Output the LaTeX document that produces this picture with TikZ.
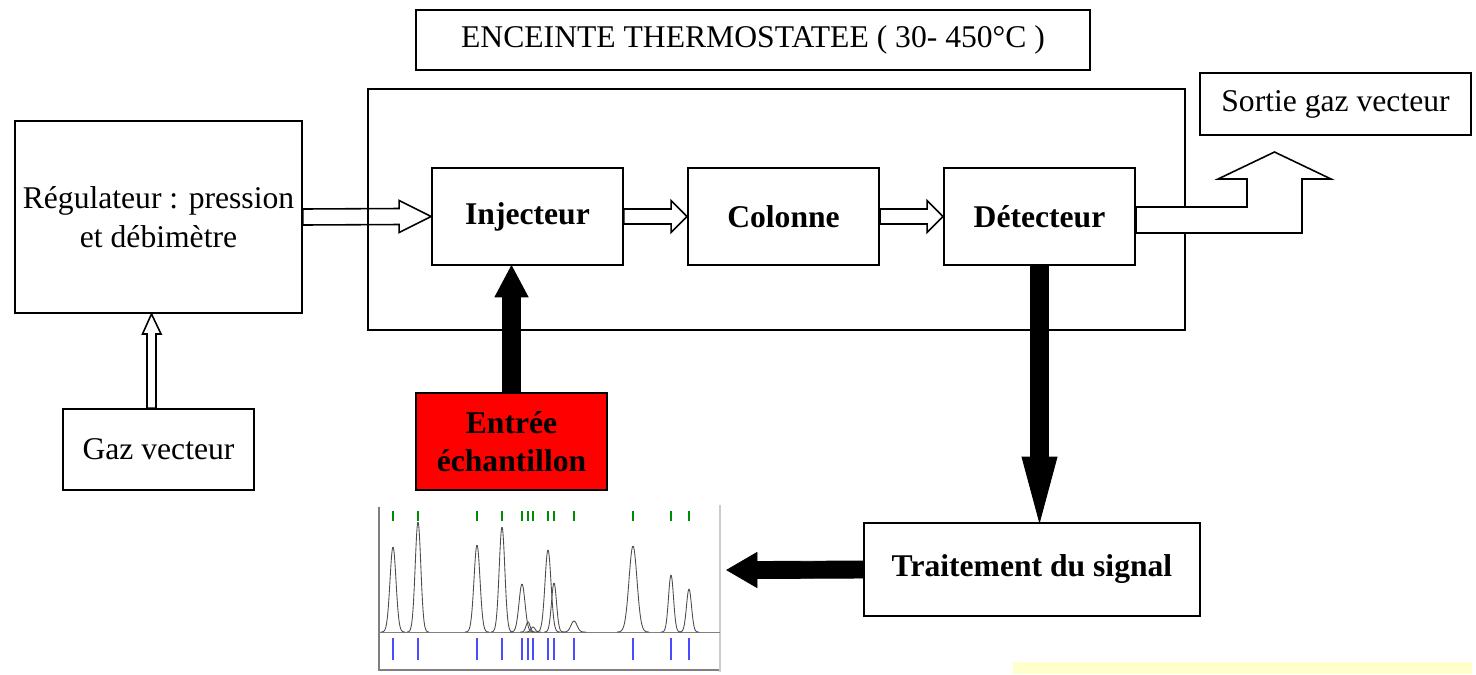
\documentclass[tikz,border=0pt]{standalone}
\usepackage{fontspec}
\setmainfont{Liberation Serif}
\usetikzlibrary{calc}
\definecolor{jaunepale}{HTML}{FFFFCC}

\begin{document}
\begin{tikzpicture}[x=0.02cm, y=-0.02cm,
	bloc/.style={draw, line width=1.1pt, align=center, inner sep=2pt, font=\fontsize{18}{22}\selectfont},
	gras/.style={bloc, font=\bfseries\fontsize{18}{22}\selectfont},
	creuse/.style={draw, line width=0.9pt, fill=white, line join=miter},
	noire/.style={draw, fill=black, line width=0.5pt}]
	\useasboundingbox (0,0) rectangle (1476,674);

	\node (enceinte) at (776.5,209.5) [bloc, minimum width=16.34cm, minimum height=4.82cm] {};
	\node (titre) at (753,40) [bloc, minimum width=13.48cm, minimum height=1.2cm] {ENCEINTE THERMOSTATEE ( 30- 450°C )};
	\node (reg) at (158.5,217) [bloc, minimum width=5.74cm, minimum height=3.84cm] {Régulateur : pression\\et débimètre};
	\node (gaz) at (158.5,449.5) [bloc, minimum width=3.82cm, minimum height=1.62cm] {Gaz vecteur};
	\node (inj) at (527.5,216.5) [gras, minimum width=3.82cm, minimum height=1.94cm] {Injecteur};
	\node (col) at (783.5,216.5) [gras, minimum width=3.82cm, minimum height=1.94cm] {Colonne};
	\node (det) at (1039.5,216.5) [gras, minimum width=3.82cm, minimum height=1.94cm] {Détecteur};
	\node (sortie) at (1335.5,104) [bloc, minimum width=5.42cm, minimum height=1.24cm] {Sortie gaz vecteur};
	\node (entree) at (511.5,441.5) [gras, fill=red, minimum width=3.82cm, minimum height=1.94cm] {Entrée\\échantillon};
	\node (trait) at (1032,569.5) [gras, minimum width=6.72cm, minimum height=1.86cm] {Traitement du signal};

	\coordinate (injbas) at (entree.north |- inj.south);
	\coordinate (traithaut) at (det.south |- trait.north);
	\coordinate (sortietip) at (1274.5,152);
	\coordinate (chromatip) at (727,570);

	% gas line
	\draw[creuse] ($(gaz.north)+(-11.5,0)$) -- ($(reg.south)+(-11.5,20)$) -- ++(-4.5,0) -- ($(reg.south)+(-7,0)$) -- ++(9.5,20) -- ++(-5,0) -- ($(gaz.north)+(-2.5,0)$) -- cycle;
	\draw[creuse, fill=none] ($(reg.east)+(0,-8)$) -- ($(inj.west)+(-32,-8)$) -- ++(0,-8) -- (inj.west) -- ++(-32,16) -- ++(0,-8) -- ($(reg.east)+(0,8)$) -- cycle;
	\draw[creuse] ($(inj.east)+(0,-7.5)$) -- ($(col.west)+(-16,-7.5)$) -- ++(0,-8.5) -- (col.west) -- ++(-16,16) -- ++(0,-8.5) -- ($(inj.east)+(0,7.5)$) -- cycle;
	\draw[creuse] ($(col.east)+(0,-7.5)$) -- ($(det.west)+(-16,-7.5)$) -- ++(0,-8.5) -- (det.west) -- ++(-16,16) -- ++(0,-8.5) -- ($(col.east)+(0,7.5)$) -- cycle;
	\draw[creuse] ($(det.east)+(0,-9.5)$) -| ($(sortietip)+(-27.5,27)$) -- ++(-29,0) -- (sortietip) -- ++(56.5,27) -- ++(-29,0) |- ($(det.east)+(0,16.5)$) -- cycle;

	% sample and signal
	\draw[noire] ($(entree.north)+(-9,0)$) -- ($(injbas)+(-9,31)$) -- ++(-7.5,0) -- (injbas) -- ++(16.5,31) -- ++(-7.5,0) -- ($(entree.north)+(9,0)$) -- cycle;
	\draw[noire] ($(det.south)+(-9,0)$) -- ($(traithaut)+(-9,-65)$) -- ++(-8.5,0) -- (traithaut) -- ++(17.5,-65) -- ++(-8.5,0) -- ($(det.south)+(9,0)$) -- cycle;
	\draw[noire] ($(trait.west)+(0,-8.5)$) -- ($(chromatip)+(30,-8.5)$) -- ++(0,-9) -- (chromatip) -- ++(30,17.5) -- ++(0,-9) -- ($(trait.west)+(0,8.5)$) -- cycle;

	% chromatogram
	\draw[gray, line width=0.6pt] (379,507) -- (379,670) -- (720,670);
	\draw[gray!40, line width=0.6pt] (720,505) -- (720,672);
	\draw[gray, line width=0.5pt] (379,632) -- (720,632);
	\foreach \c/\h/\s in {393/85/3, 418/110/2.8, 477/87/3, 502/105/2.8, 522/48/3, 528/10/2, 533/5/2, 548/82/3, 554/49/2.5, 574/11/3, 633/86/4, 671/57/2.5, 689/43/2.5} {
		\draw[gray!60!black, line width=0.5pt] plot[domain=\c-4*\s:\c+4*\s, samples=40, smooth] (\x,{632-\h*exp(-0.5*((\x-\c)/\s)^2)});
		\draw[green!55!black, line width=0.6pt] (\c,511) -- (\c,521);
		\draw[blue!70, line width=0.8pt] (\c,638) -- (\c,660);
	}

	\fill[jaunepale] (1013,662) rectangle (1472,674);
\end{tikzpicture}
\end{document}
